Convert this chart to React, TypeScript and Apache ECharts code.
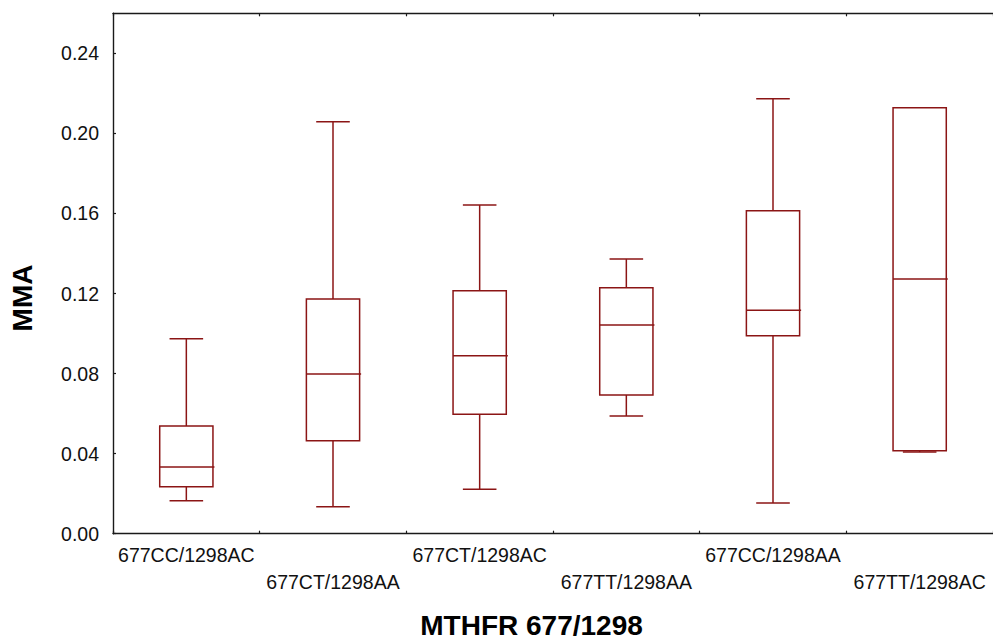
import React, { useEffect, useRef } from "react";
import * as echarts from "echarts";

const categories = [
  "677CC/1298AC",
  "677CT/1298AA",
  "677CT/1298AC",
  "677TT/1298AA",
  "677CC/1298AA",
  "677TT/1298AC",
];
const mins = [0.0165, 0.0135, 0.0222, 0.0588, 0.0153, 0.0408];
const q1s = [0.0235, 0.0465, 0.0597, 0.0693, 0.0989, 0.0415];
const medians = [0.0333, 0.0798, 0.0889, 0.1043, 0.1116, 0.1272];
const q3s = [0.0538, 0.1173, 0.1214, 0.1229, 0.1614, 0.2128];
const maxs = [0.0974, 0.2058, 0.1642, 0.1372, 0.2173, 0.2128];

const yTicks = [0, 0.04, 0.08, 0.12, 0.16, 0.2, 0.24];

const BOX_COLOR = "#8b1515";
const AXIS_COLOR = "#1a1a1a";
const FONT = "'Liberation Sans', Arial, sans-serif";

export default function App() {
  const ref = useRef<HTMLDivElement>(null);

  useEffect(() => {
    if (!ref.current) return;
    const chart = echarts.init(ref.current, null, { renderer: "svg" });
    const data = categories.map((_, i) => [i, mins[i], q1s[i], medians[i], q3s[i], maxs[i]]);

    const option: any = {
      animation: false,
      backgroundColor: "#ffffff",
      grid: { left: 113, right: -3, top: 13.3, bottom: 107.3 },
      xAxis: [
        {
          type: "category",
          data: categories,
          position: "bottom",
          boundaryGap: true,
          axisLine: { show: true, lineStyle: { color: AXIS_COLOR, width: 1.4 } },
          axisTick: { show: true, inside: true, length: 3, alignWithLabel: false, lineStyle: { color: AXIS_COLOR, width: 1.2 } },
          axisLabel: {
            interval: 0,
            hideOverlap: false,
            margin: 8,
            color: "#111",
            fontFamily: FONT,
            fontSize: 19.5,
            lineHeight: 26.7,
            verticalAlign: "top",
            formatter: (v: string, i: number) => (i % 2 === 1 ? "\n" + v : v),
          },
          splitLine: { show: false },
        },
        {
          type: "category",
          data: categories,
          position: "top",
          boundaryGap: true,
          axisLine: { show: true, lineStyle: { color: AXIS_COLOR, width: 1.4 } },
          axisTick: { show: true, inside: true, length: 3, lineStyle: { color: AXIS_COLOR, width: 1.2 } },
          axisLabel: { show: false },
          splitLine: { show: false },
        },
      ],
      yAxis: {
        type: "value",
        min: 0,
        max: 0.26,
        interval: 0.04,
        axisLine: { show: true, lineStyle: { color: AXIS_COLOR, width: 1.4 } },
        axisTick: { show: true, inside: true, length: 3, lineStyle: { color: AXIS_COLOR, width: 1.2 } },
        axisLabel: {
          margin: 14,
          color: "#111",
          fontFamily: FONT,
          fontSize: 19.5,
          showMaxLabel: false,
          formatter: (v: number) => (yTicks.some((t) => Math.abs(t - v) < 1e-9) ? v.toFixed(2) : ""),
        },
        splitLine: { show: false },
      },
      series: [
        {
          type: "custom",
          xAxisIndex: 0,
          encode: { x: 0, y: [1, 2, 3, 4, 5] },
          data,
          renderItem: (params: any, api: any) => {
            const idx = api.value(0);
            const band = api.size([1, 0])[0];
            const boxW = band * 0.363;
            const capW = band * 0.229;
            const pMin = api.coord([idx, api.value(1)]);
            const pQ1 = api.coord([idx, api.value(2)]);
            const pMed = api.coord([idx, api.value(3)]);
            const pQ3 = api.coord([idx, api.value(4)]);
            const pMax = api.coord([idx, api.value(5)]);
            const cx = pMed[0];
            const style = { stroke: BOX_COLOR, lineWidth: 1.5, fill: null };
            const children: any[] = [];
            if (pMax[1] < pQ3[1] - 0.5) {
              children.push({ type: "line", shape: { x1: cx, y1: pQ3[1], x2: cx, y2: pMax[1] }, style });
              children.push({ type: "line", shape: { x1: cx - capW / 2, y1: pMax[1], x2: cx + capW / 2, y2: pMax[1] }, style });
            }
            if (pMin[1] > pQ1[1] + 0.3) {
              children.push({ type: "line", shape: { x1: cx, y1: pQ1[1], x2: cx, y2: pMin[1] }, style });
              children.push({ type: "line", shape: { x1: cx - capW / 2, y1: pMin[1], x2: cx + capW / 2, y2: pMin[1] }, style });
            }
            children.push({
              type: "rect",
              shape: { x: cx - boxW / 2, y: pQ3[1], width: boxW, height: pQ1[1] - pQ3[1] },
              style: { stroke: BOX_COLOR, lineWidth: 1.5, fill: "none" },
            });
            children.push({
              type: "line",
              shape: { x1: cx - boxW / 2, y1: pMed[1], x2: cx + boxW / 2 + 1.5, y2: pMed[1] },
              style,
            });
            return { type: "group", children };
          },
        },
      ],
      graphic: [
        {
          type: "text",
          x: 531.5,
          y: 625,
          style: {
            text: "MTHFR 677/1298",
            fontFamily: FONT,
            fontWeight: "bold",
            fontSize: 28,
            fill: "#000",
            align: "center",
            verticalAlign: "middle",
          },
        },
        {
          type: "text",
          x: 22,
          y: 298,
          rotation: Math.PI / 2,
          style: {
            text: "MMA",
            fontFamily: FONT,
            fontWeight: "bold",
            fontSize: 28,
            fill: "#000",
            align: "center",
            verticalAlign: "middle",
          },
        },
      ],
    };

    chart.setOption(option);
    return () => {
      chart.dispose();
    };
  }, []);

  return (
    <div
      ref={ref}
      style={{ position: "fixed", left: 0, top: 0, width: 993, height: 641, background: "#fff" }}
    />
  );
}
